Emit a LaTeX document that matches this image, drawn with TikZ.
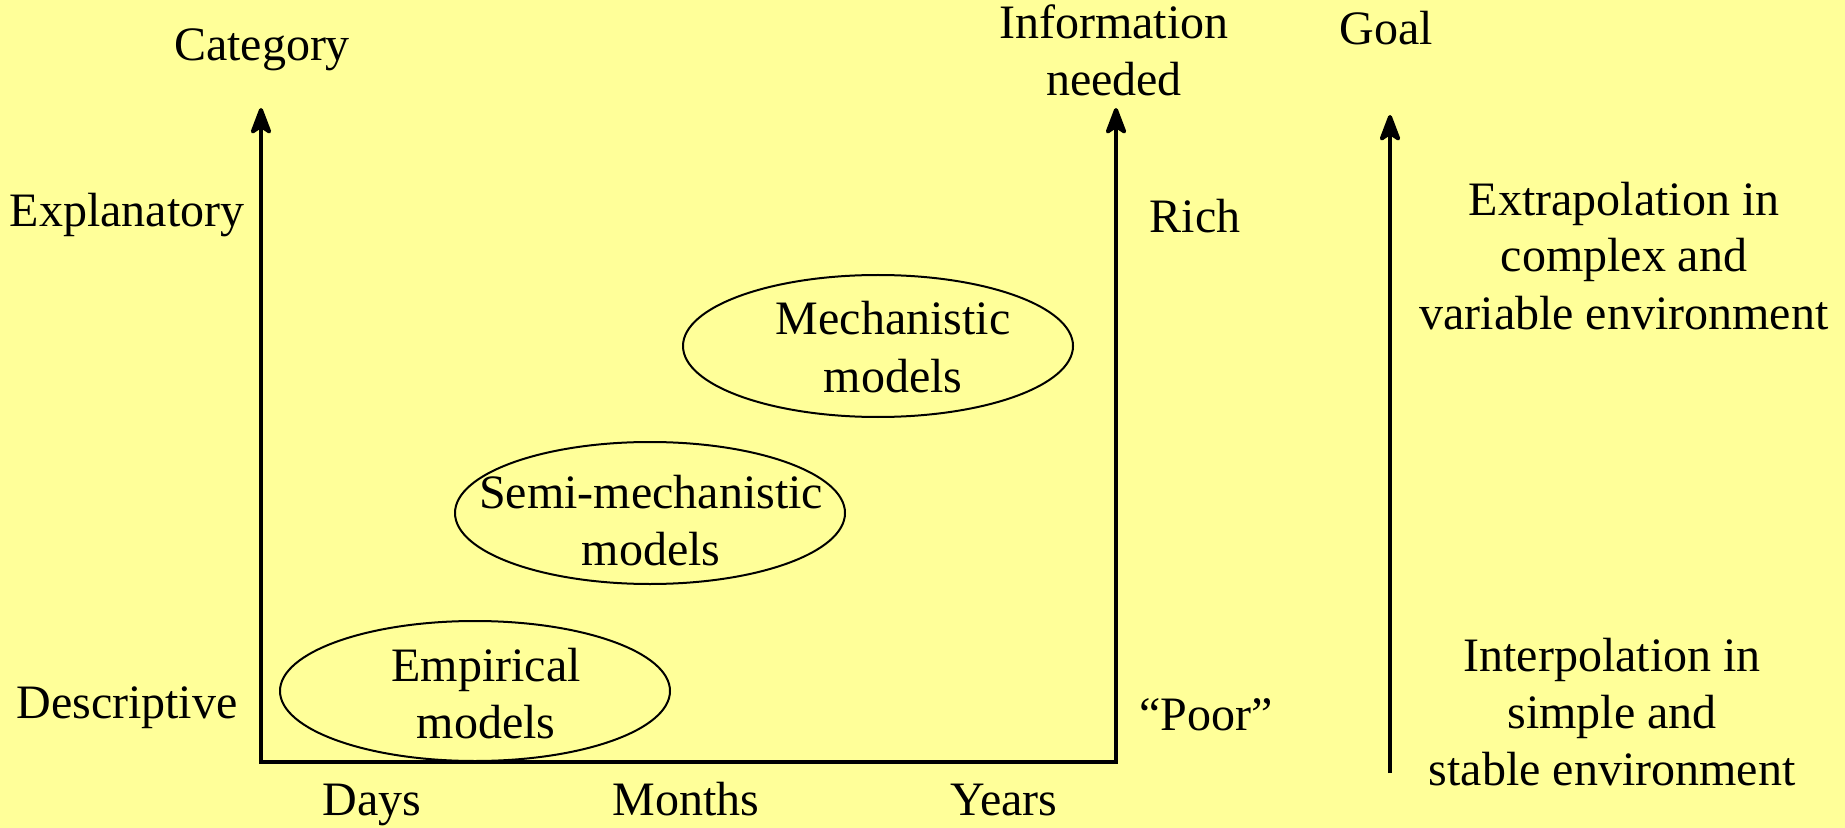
\documentclass[tikz,border=0pt]{standalone}
\usepackage{fontspec}
\setmainfont{Liberation Serif}[Ligatures=TeX]
\newfontfamily\timesfont{Liberation Serif}[Ligatures=TeX]
\usetikzlibrary{arrows.meta}
\definecolor{paper}{HTML}{FFFF99}

\begin{document}
\begin{tikzpicture}[
  x=0.5pt, y=-0.5pt,
  font=\timesfont\fontsize{24}{28.5}\selectfont,
  >={Stealth[length=16pt, width=12pt, inset=4pt, round]},
  lab/.style={inner sep=0pt, align=center, anchor=base},
  model/.style={line width=1pt},
  axis/.style={line width=2pt, line join=miter}
]
\fill[paper] (0,0) rectangle (1845,828);
\useasboundingbox (0,0) rectangle (1845,828);

% axes
\coordinate (origin) at (261,762);
\coordinate (cattop) at (261,108);
\coordinate (corner) at (1116,762);
\coordinate (infotop) at (1116,108);
\coordinate (goalbot) at (1390,773);
\coordinate (goaltop) at (1390,115);
\draw[axis, <->] (cattop) -- (origin) -- (corner) -- (infotop);
\draw[axis, ->] (goalbot) -- (goaltop);

% model classes
\node[lab] (emp) at (486,738) {Empirical\\models};
\node[lab] (semi) at (651,565) {Semi-mechanistic\\models};
\node[lab] (mech) at (893,392) {Mechanistic\\models};
\draw[model] (475,691) ellipse [x radius=97.5pt, y radius=35pt];
\draw[model] (650,513) ellipse [x radius=97.5pt, y radius=35.5pt];
\draw[model] (878,346) ellipse [x radius=97.5pt, y radius=35.5pt];

% labels
\node[lab] (cat) at (262,61) {Category};
\node[lab] (expl) at (127,227) {Explanatory};
\node[lab] (desc) at (127,718) {Descriptive};
\node[lab] (days) at (372,815) {Days};
\node[lab] (months) at (686,815) {Months};
\node[lab] (years) at (1004,815) {Years};
\node[lab] (info) at (1114,96) {Information\\needed};
\node[lab] (rich) at (1195,233) {Rich};
\node[lab] (poor) at (1206,730) {``Poor''};
\node[lab] (goal) at (1386,45) {Goal};
\node[lab] (extra) at (1624,329) {Extrapolation in\\complex and\\variable environment};
\node[lab] (inter) at (1612,785) {Interpolation in\\simple and\\stable environment};
\end{tikzpicture}
\end{document}
